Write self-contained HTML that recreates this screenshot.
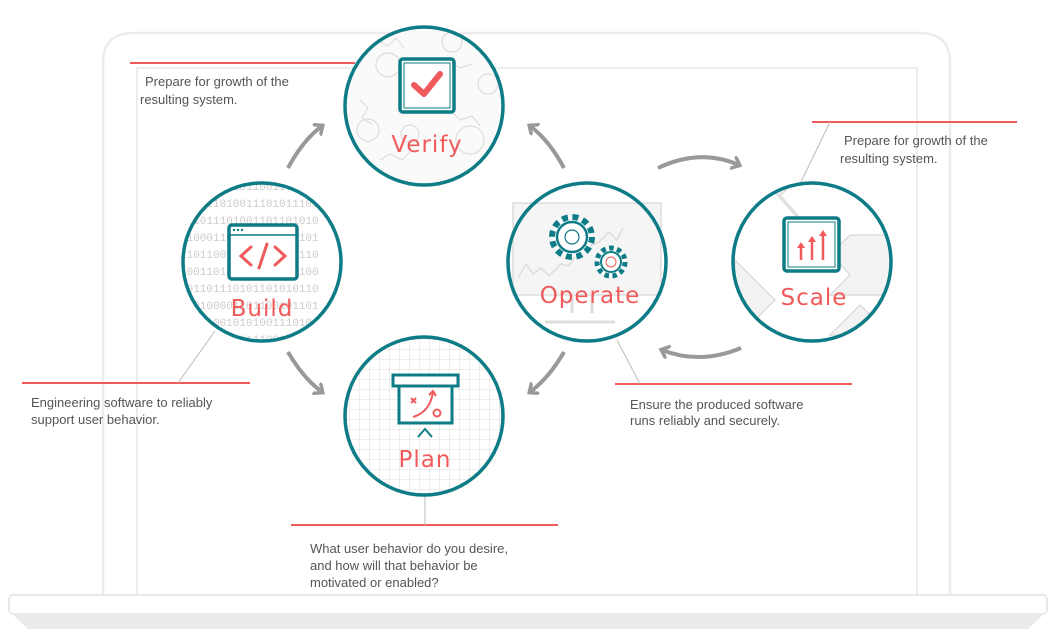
<!DOCTYPE html>
<html><head><meta charset="utf-8"><style>
html,body{margin:0;padding:0;background:#fff;width:1056px;height:634px;overflow:hidden}
svg{display:block}
.t{font-family:"Liberation Sans",sans-serif;font-size:13px;fill:#555}
.l{font-family:"DejaVu Sans","Liberation Sans",sans-serif;font-size:23px;fill:#f05a5a;text-anchor:middle;letter-spacing:1px}
.bin{font-family:"Liberation Mono",monospace;font-size:11px;fill:#ccc}
</style></head><body>
<svg width="1056" height="634" viewBox="0 0 1056 634">
<defs>
<pattern id="grid" width="10" height="10" patternUnits="userSpaceOnUse"><path d="M10 0V10H0" fill="none" stroke="#ddd" stroke-width="1"/></pattern>
<clipPath id="cb"><circle cx="262" cy="262" r="79"/></clipPath>
<clipPath id="cp"><circle cx="424" cy="416" r="79"/></clipPath>
<clipPath id="cs"><circle cx="812" cy="262" r="79"/></clipPath>
<marker id="ah" markerWidth="14" markerHeight="16" refX="7" refY="7" orient="auto" markerUnits="userSpaceOnUse"><path d="M1 1L8 7L1 13" fill="none" stroke="#999" stroke-width="3.5" stroke-linecap="round"/></marker>
</defs>
<!-- laptop -->
<path d="M103 594V63Q103 33 133 33H920Q950 33 950 63V594" fill="none" stroke="#ececec" stroke-width="2.5"/>
<path d="M137 594V68H917V594" fill="none" stroke="#ececec" stroke-width="2"/>
<rect x="9" y="595" width="1038" height="19" rx="4" fill="#fff" stroke="#e8e8e8" stroke-width="2"/>
<path d="M12 614H1044L1028 629H28Z" fill="#ebebeb"/>

<!-- red lines + leaders -->
<g stroke="#f05a5a" stroke-width="2">
<line x1="130" y1="63" x2="355" y2="63"/><line x1="812" y1="122" x2="1017" y2="122"/>
<line x1="22" y1="383" x2="250" y2="383"/><line x1="615" y1="384" x2="852" y2="384"/>
<line x1="291" y1="525" x2="558" y2="525"/></g>
<g stroke="#bbb" stroke-width="1">
<line x1="830" y1="122" x2="800" y2="184"/><line x1="215" y1="331" x2="178" y2="383"/>
<line x1="617" y1="340" x2="640" y2="384"/><line x1="425" y1="496" x2="425" y2="525"/></g>

<text class="t" x="145" y="86">Prepare for growth of the</text>
<text class="t" x="140" y="104">resulting system.</text>
<text class="t" x="844" y="145">Prepare for growth of the</text>
<text class="t" x="840" y="163">resulting system.</text>
<text class="t" x="31" y="407">Engineering software to reliably</text>
<text class="t" x="31" y="424">support user behavior.</text>
<text class="t" x="630" y="409">Ensure the produced software</text>
<text class="t" x="630" y="425">runs reliably and securely.</text>
<text class="t" x="310" y="553">What user behavior do you desire,</text>
<text class="t" x="310" y="570">and how will that behavior be</text>
<text class="t" x="310" y="587">motivated or enabled?</text>

<!-- arrows -->
<g fill="none" stroke="#999" stroke-width="4" marker-end="url(#ah)">
<path d="M288 168Q303 140 322 126"/>
<path d="M288 352Q303 378 322 392"/>
<path d="M564 168Q549 140 530 126"/>
<path d="M564 352Q549 378 530 392"/>
<path d="M658 168Q700 148 739 165"/>
<path d="M741 348Q700 365 662 350"/>
</g>

<!-- Verify -->
<circle cx="424" cy="106" r="79" fill="#fafafa"/>
<g fill="none" stroke="#ddd" stroke-width="1.2">
<circle cx="388" cy="65" r="12"/><circle cx="452" cy="42" r="10"/><circle cx="488" cy="84" r="10"/><circle cx="368" cy="130" r="11"/><circle cx="470" cy="140" r="14"/><circle cx="410" cy="134" r="9"/>
<path d="M370 50l8-10 10 6 8-8 8 10M440 70l10-8 10 6 12-4M360 100l8 8-6 10 10 6M450 110l10 10 12-4 8 10M380 160l10-6 12 6 8-8"/></g>
<circle cx="424" cy="106" r="79" fill="none" stroke="#0e7c86" stroke-width="3.5"/>
<rect x="400" y="59" width="54" height="53" rx="3" fill="#fff" stroke="#0e7c86" stroke-width="3.5"/>
<rect x="404" y="63" width="46" height="45" fill="none" stroke="#0e7c86" stroke-width="1"/>
<path d="M414 85l10 9 16-20" fill="none" stroke="#f05a5a" stroke-width="6" stroke-linecap="round" stroke-linejoin="round"/>
<text class="l" x="427" y="152">Verify</text>

<!-- Build -->
<circle cx="262" cy="262" r="79" fill="#fff"/>
<g clip-path="url(#cb)" class="bin">
<text x="180" y="190">011011101011001101101</text><text x="180" y="207">100111010011101011101</text>
<text x="180" y="224">101011101001101101010</text><text x="180" y="241">010001101101100100101</text>
<text x="180" y="258">110110010110110110110</text><text x="180" y="275">100110101100111010100</text>
<text x="180" y="292">001101110101101010110</text><text x="180" y="309">110100001101100101101</text>
<text x="180" y="326">110110010101001110101</text><text x="180" y="343">001101011011100111010</text>
</g>
<circle cx="262" cy="262" r="79" fill="none" stroke="#0e7c86" stroke-width="3.5"/>
<rect x="229" y="225" width="68" height="54" rx="3" fill="#fff" stroke="#0e7c86" stroke-width="3.5"/>
<line x1="229" y1="235" x2="297" y2="235" stroke="#0e7c86" stroke-width="1.5"/>
<g fill="#0e7c86"><circle cx="234" cy="230" r="1.2"/><circle cx="238" cy="230" r="1.2"/><circle cx="242" cy="230" r="1.2"/></g>
<path d="M251 247l-10 9 10 9M275 247l10 9-10 9M267 244l-8 24" fill="none" stroke="#f05a5a" stroke-width="3" stroke-linecap="round"/>
<text class="l" x="262" y="316">Build</text>

<!-- Plan -->
<circle cx="424" cy="416" r="79" fill="#fff"/>
<rect x="340" y="332" width="170" height="170" fill="url(#grid)" clip-path="url(#cp)"/>
<circle cx="424" cy="416" r="79" fill="none" stroke="#0e7c86" stroke-width="3.5"/>
<rect x="393" y="375" width="65" height="11" fill="#fff" stroke="#0e7c86" stroke-width="3"/>
<rect x="399" y="386" width="53" height="37" fill="#fff" stroke="#0e7c86" stroke-width="3"/>
<path d="M418 437l7-8 7 8" fill="none" stroke="#0e7c86" stroke-width="2"/>
<g stroke="#f05a5a" stroke-width="2" fill="none"><path d="M411 398l5 5M416 398l-5 5"/><path d="M413 417Q430 412 433 392M429 395l4-4 3 5"/><circle cx="437" cy="413" r="3.5"/></g>
<text class="l" x="425" y="467">Plan</text>

<!-- Operate -->
<circle cx="587" cy="262" r="79" fill="#fff"/>
<rect x="513" y="203" width="148" height="92" fill="#f5f5f5" stroke="#ddd" stroke-width="1.5"/>
<path d="M518 278l8-14 7 10 8-6 8 8 12-12 8 2 10-16 20-8 10-10 8 8 6-12" fill="none" stroke="#ddd" stroke-width="1.5"/>
<path d="M572 295v18M592 295v18M545 322h70" stroke="#ddd" stroke-width="3" fill="none"/>
<circle cx="587" cy="262" r="79" fill="none" stroke="#0e7c86" stroke-width="3.5"/>
<circle cx="572" cy="237" r="20" fill="#fff" stroke="#0e7c86" stroke-width="6" stroke-dasharray="6 4.5"/>
<circle cx="572" cy="237" r="15" fill="#fff" stroke="#0e7c86" stroke-width="2.5"/>
<circle cx="572" cy="237" r="7" fill="none" stroke="#0e7c86" stroke-width="1.2"/>
<circle cx="611" cy="262" r="14" fill="#fff" stroke="#0e7c86" stroke-width="5" stroke-dasharray="4.5 3.5"/>
<circle cx="611" cy="262" r="10" fill="#fff" stroke="#0e7c86" stroke-width="2"/>
<circle cx="611" cy="262" r="5" fill="none" stroke="#f05a5a" stroke-width="1"/>
<text class="l" x="590" y="303">Operate</text>

<!-- Scale -->
<circle cx="812" cy="262" r="79" fill="#fff"/>
<g clip-path="url(#cs)" fill="#f3f3f3" stroke="#ddd" stroke-width="1.5">
<path d="M730 200l30 -25 70 80 20-20 40 0 0 60 -60 0 20-20 -70-80 30-25"/>
<path d="M735 260l40 40 -40 40z"/>
<path d="M830 335l30-30 30 30z"/>
</g>
<circle cx="812" cy="262" r="79" fill="none" stroke="#0e7c86" stroke-width="3.5"/>
<rect x="784" y="218" width="55" height="53" rx="3" fill="#fff" stroke="#0e7c86" stroke-width="3.5"/>
<rect x="788" y="222" width="47" height="45" fill="none" stroke="#0e7c86" stroke-width="1"/>
<g stroke="#f05a5a" stroke-width="2.5" fill="#f05a5a"><line x1="801" y1="260" x2="801" y2="246"/><line x1="812" y1="260" x2="812" y2="240"/><line x1="823" y1="260" x2="823" y2="234"/></g>
<g fill="#f05a5a"><path d="M797 248l4-6 4 6z"/><path d="M808 242l4-6 4 6z"/><path d="M819 236l4-6 4 6z"/></g>
<text class="l" x="814" y="305">Scale</text>
</svg>
</body></html>
